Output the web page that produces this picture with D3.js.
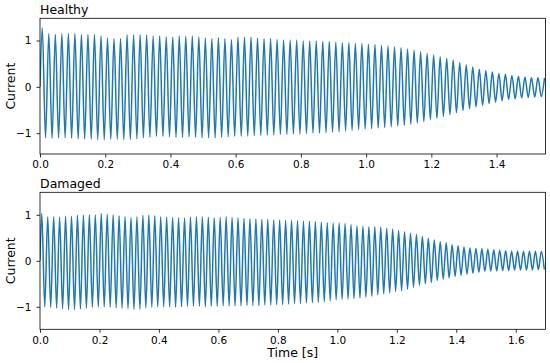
<!DOCTYPE html>
<html><head><meta charset="utf-8">
<script src="https://cdn.jsdelivr.net/npm/d3@7"></script>
<style>body{margin:0;background:#fff}svg{display:block}text{font-family:"DejaVu Sans",sans-serif}</style>
</head><body>
<script>
// ---- data ----
const period = 0.02;              // seconds per cycle (50 Hz)
const healthyPeakT0 = 0.007;      // time of first positive peak
const healthyTroughT0 = 0.017;
const healthyPeaks = [1.27,1.15,1.13,1.14,1.15,1.15,1.13,1.13,1.13,1.10,1.05,1.04,1.04,1.12,1.12,1.12,1.12,1.10,1.10,1.08,
 1.07,1.10,1.09,1.10,1.08,1.05,1.04,1.06,1.04,1.02,1.07,1.07,1.07,1.05,1.04,1.04,1.02,1.01,1.01,1.01,
 0.99,0.99,0.99,0.98,0.98,0.965,0.95,0.95,0.94,0.935,0.92,0.915,0.90,0.88,0.865,0.845,0.815,0.79,0.76,0.72,
 0.685,0.65,0.615,0.58,0.52,0.47,0.43,0.38,0.35,0.32,0.29,0.27,0.245,0.23,0.215,0.20,0.20,0.195];
const healthyTroughs = [-1.10,-1.11,-1.10,-1.10,-1.11,-1.12,-1.12,-1.13,-1.14,-1.14,-1.13,-1.13,-1.14,-1.14,-1.12,-1.10,-1.09,-1.07,-1.07,-1.08,
 -1.09,-1.09,-1.08,-1.09,-1.10,-1.10,-1.10,-1.09,-1.08,-1.07,-1.07,-1.06,-1.05,-1.05,-1.04,-1.04,-1.03,-1.03,-1.02,-1.02,
 -1.01,-1.00,-1.00,-0.99,-0.98,-0.97,-0.95,-0.94,-0.92,-0.91,-0.90,-0.89,-0.88,-0.86,-0.85,-0.83,-0.81,-0.78,-0.75,-0.71,
 -0.68,-0.64,-0.60,-0.56,-0.51,-0.47,-0.43,-0.40,-0.36,-0.33,-0.30,-0.27,-0.26,-0.24,-0.23,-0.22,-0.21];

const damagedPeakT0 = 0.006;
const damagedTroughT0 = 0.016;
const damagedPeaks = [1.03,0.96,0.96,0.95,0.97,0.97,0.99,0.99,1.00,1.00,1.03,1.01,1.00,0.98,0.96,0.94,0.96,0.99,0.99,0.98,
 0.96,0.95,0.94,0.93,0.93,0.95,0.96,0.96,0.95,0.93,0.94,0.96,0.94,0.93,0.92,0.91,0.91,0.90,0.90,0.89,
 0.89,0.88,0.88,0.87,0.86,0.86,0.85,0.84,0.83,0.82,0.82,0.81,0.79,0.76,0.75,0.74,0.74,0.73,0.71,0.69,
 0.66,0.63,0.60,0.57,0.53,0.49,0.45,0.42,0.39,0.35,0.33,0.30,0.28,0.27,0.26,0.25,0.24,0.23,0.22,0.21,
 0.21,0.21,0.21,0.21,0.20];
const damagedTroughs = [-1.00,-1.01,-1.03,-1.04,-1.06,-1.06,-1.05,-1.03,-1.01,-1.00,-1.00,-1.01,-1.02,-1.03,-1.04,-1.06,-1.05,-1.02,-1.01,-1.00,
 -1.00,-1.00,-1.01,-1.00,-0.99,-0.99,-0.99,-1.00,-0.99,-0.99,-0.98,-0.98,-0.98,-0.98,-0.97,-0.97,-0.97,-0.96,-0.96,-0.95,
 -0.95,-0.94,-0.93,-0.93,-0.92,-0.91,-0.90,-0.89,-0.87,-0.85,-0.84,-0.83,-0.82,-0.81,-0.79,-0.77,-0.74,-0.72,-0.70,-0.67,
 -0.65,-0.62,-0.58,-0.53,-0.50,-0.47,-0.43,-0.40,-0.37,-0.34,-0.32,-0.29,-0.27,-0.25,-0.23,-0.22,-0.22,-0.21,-0.21,-0.20,
 -0.20,-0.20,-0.20,-0.19,-0.19];

const healthyXTicks = [0.0,0.2,0.4,0.6,0.8,1.0,1.2,1.4];
const damagedXTicks = [0.0,0.2,0.4,0.6,0.8,1.0,1.2,1.4,1.6];
const yTicks = [-1,0,1];

// ---- build ----
const W = 550, H = 363;
const svg = d3.select("body").append("svg").attr("width", W).attr("height", H);
const color = "#1f77b4";

function series(peaks, troughs, tp, tt) {
  const pts = [[0, 0]];
  const n = Math.max(peaks.length, troughs.length);
  for (let i = 0; i < n; i++) {
    if (i < peaks.length) pts.push([tp + i * period, peaks[i]]);
    if (i < troughs.length) pts.push([tt + i * period, troughs[i]]);
  }
  return pts;
}

function panel(cfg) {
  const x = d3.scaleLinear().domain(cfg.xdom).range([40, 545.5]);
  const y = d3.scaleLinear().domain(cfg.ydom).range([cfg.bottom, cfg.top]);
  const g = svg.append("g");
  const id = "clip" + cfg.name;
  svg.append("clipPath").attr("id", id).append("rect")
    .attr("x", 40).attr("y", cfg.top).attr("width", 505.5).attr("height", cfg.bottom - cfg.top);
  const line = d3.line().x(d => x(d[0])).y(d => y(d[1])).curve(d3.curveMonotoneX);
  g.append("path").datum(cfg.data).attr("clip-path", `url(#${id})`)
    .attr("fill", "none").attr("stroke", color).attr("stroke-width", 1.5)
    .attr("stroke-linejoin", "round").attr("d", line);
  // frame
  g.append("rect").attr("x", 40).attr("y", cfg.top).attr("width", 505.5).attr("height", cfg.bottom - cfg.top)
    .attr("fill", "none").attr("stroke", "#000").attr("stroke-width", 0.8);
  const xa = g.append("g").attr("transform", `translate(0,${cfg.bottom})`)
    .call(d3.axisBottom(x).tickValues(cfg.xticks).tickFormat(d3.format(".1f")).tickSize(3.5).tickPadding(3.5));
  const ya = g.append("g").attr("transform", `translate(40,0)`)
    .call(d3.axisLeft(y).tickValues(yTicks).tickFormat(d3.format("d")).tickSize(3.5).tickPadding(5));
  [xa, ya].forEach(a => {
    a.select(".domain").remove();
    a.selectAll("line").attr("stroke", "#000").attr("stroke-width", 0.8);
    a.selectAll("text").attr("fill", "#000").style("font-size", "10.5px").style("font-family", "DejaVu Sans");
  });
  g.append("text").attr("x", 40).attr("y", cfg.top - 4.5).style("font-size", "12.5px").text(cfg.title);
  g.append("text").attr("transform", `translate(15,${(cfg.top + cfg.bottom) / 2}) rotate(-90)`)
    .attr("text-anchor", "middle").style("font-size", "12.5px").text("Current");
}

panel({name: "h", title: "Healthy", xdom: [0, 1.55], ydom: [-1.45, 1.48], top: 18.3, bottom: 154,
  xticks: healthyXTicks, data: series(healthyPeaks, healthyTroughs, healthyPeakT0, healthyTroughT0)});
panel({name: "d", title: "Damaged", xdom: [0, 1.7], ydom: [-1.49, 1.49], top: 192.3, bottom: 329.3,
  xticks: damagedXTicks, data: series(damagedPeaks, damagedTroughs, damagedPeakT0, damagedTroughT0)});

svg.append("text").attr("x", 292.7).attr("y", 357.3).attr("text-anchor", "middle")
  .style("font-size", "12.5px").text("Time [s]");
</script>
</body></html>
